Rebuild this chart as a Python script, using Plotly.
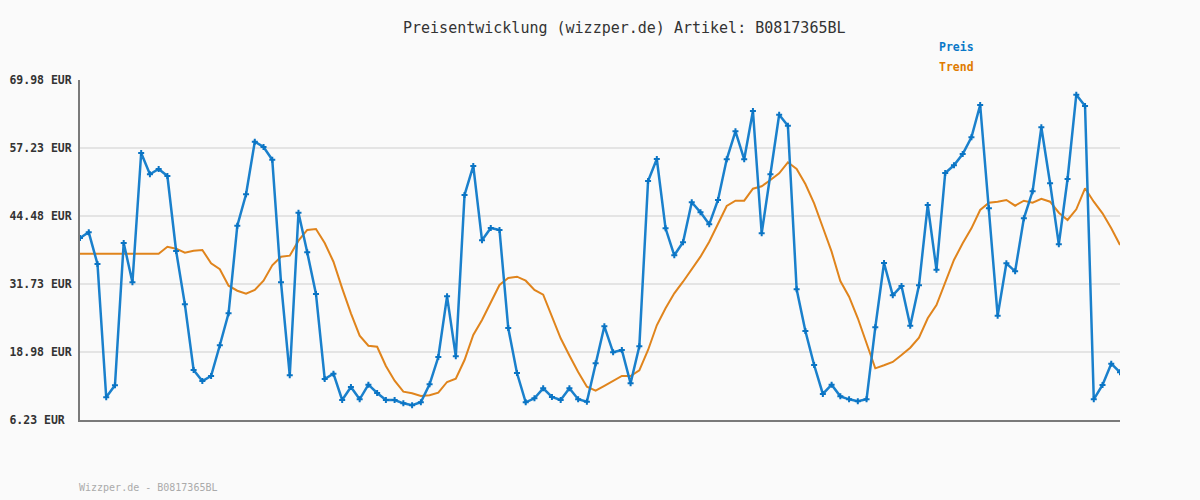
import plotly.graph_objects as go

preis = [40.36, 41.42, 35.48, 10.49, 12.74, 39.42, 32.05, 56.29, 52.30, 53.29,
         51.98, 37.92, 27.92, 15.61, 13.54, 14.48, 20.24, 26.24, 42.66, 48.55,
         58.41, 57.42, 55.04, 32.05, 14.61, 45.10, 37.67, 29.86, 13.92, 14.91,
         9.98, 12.42, 10.11, 12.85, 11.29, 9.98, 9.98, 9.36, 8.99, 9.55,
         12.92, 18.04, 29.42, 18.17, 48.42, 53.86, 39.92, 42.23, 41.86, 23.48,
         15.04, 9.55, 10.30, 12.17, 10.54, 9.98, 12.17, 10.13, 9.66, 16.86,
         23.80, 18.92, 19.36, 13.11, 20.05, 51.04, 55.17, 42.17, 37.11, 39.55,
         47.05, 45.17, 42.92, 47.48, 55.11, 60.36, 55.11, 64.17, 41.24, 52.30,
         63.47, 61.41, 30.74, 22.92, 16.54, 11.11, 12.85, 10.67, 10.11, 9.74,
         10.11, 23.61, 35.67, 29.61, 31.36, 23.91, 31.49, 46.54, 34.41, 52.54,
         53.99, 56.11, 59.24, 65.29, 45.92, 25.79, 35.61, 34.11, 44.05, 49.11,
         61.11, 50.61, 39.17, 51.42, 67.22, 65.11, 10.11, 12.79, 16.79, 15.17]

trend = [37.41, 37.41, 37.41, 37.41, 37.41, 37.41, 37.41, 37.41, 37.41, 37.41,
         38.72, 38.35, 37.60, 37.97, 38.11, 35.61, 34.49, 31.41, 30.47, 29.91,
         30.61, 32.35, 35.24, 36.85, 37.04, 39.85, 41.86, 42.04, 39.42, 35.91,
         30.92, 26.24, 22.04, 20.16, 19.97, 16.36, 13.60, 11.54, 11.24, 10.73,
         10.86, 11.35, 13.36, 13.97, 17.48, 22.17, 24.98, 28.11, 31.54, 32.86,
         33.10, 32.35, 30.61, 29.72, 25.60, 21.55, 18.32, 15.23, 12.47, 11.72,
         12.61, 13.49, 14.48, 14.48, 15.55, 19.36, 23.99, 27.17, 29.99, 32.16,
         34.49, 36.85, 39.66, 42.98, 46.36, 47.35, 47.35, 49.60, 50.05, 51.23,
         52.49, 54.55, 53.29, 50.48, 46.86, 42.32, 37.79, 32.29, 29.35, 25.30,
         20.61, 15.92, 16.49, 17.11, 18.42, 19.79, 21.66, 25.30, 27.79, 31.86,
         36.23, 39.36, 42.17, 45.61, 46.97, 47.16, 47.48, 46.41, 47.35, 46.97,
         47.72, 47.16, 45.10, 43.73, 45.74, 49.67, 47.16, 44.99, 42.17, 39.04]

y_ticks = [6.23, 18.98, 31.73, 44.48, 57.23, 69.98]
y_labels = ["6.23 EUR", "18.98 EUR", "31.73 EUR", "44.48 EUR", "57.23 EUR", "69.98 EUR"]

title = "Preisentwicklung (wizzper.de) Artikel: B0817365BL"
footer = "Wizzper.de - B0817365BL"

x = list(range(len(preis)))

BLUE = "#1a80cc"
ORANGE = "#e0841c"
MONO = "DejaVu Sans Mono"

# labels are left aligned in the reference: pad with non-breaking spaces (monospace font)
width = max(len(s) for s in y_labels)
tick_text = [s + "\u00a0" * (width - len(s)) for s in y_labels]

fig = go.Figure()
fig.add_trace(go.Scatter(
    x=x, y=trend, mode="lines", name="Trend",
    line=dict(color=ORANGE, width=2), hoverinfo="skip"))
fig.add_trace(go.Scatter(
    x=x, y=preis, mode="lines+markers", name="Preis",
    line=dict(color=BLUE, width=2.5),
    marker=dict(symbol="cross", size=5, color="#0a74c4", line=dict(width=0))))

fig.update_layout(
    width=1200, height=500,
    margin=dict(l=80, r=80, t=80, b=80),
    paper_bgcolor="#fafafa", plot_bgcolor="#fafafa",
    showlegend=False,
    xaxis=dict(range=[0, len(preis) - 1], showgrid=False, zeroline=False,
               showticklabels=False, ticks="", showline=True, automargin=False,
               linecolor="#7a7a7a", linewidth=2),
    yaxis=dict(range=[y_ticks[0], y_ticks[-1]], tickmode="array",
               tickvals=y_ticks, ticktext=tick_text, showgrid=True,
               gridcolor="#e4e4e4", gridwidth=2, zeroline=False, automargin=False,
               showline=True, linecolor="#7a7a7a", linewidth=2, ticks="",
               ticklabelstandoff=4,
               tickfont=dict(family=MONO, size=11.5, color="#333333", weight="bold")),
    annotations=[
        dict(text=title, x=624, y=28, showarrow=False,
             font=dict(family=MONO, size=15, color="#333333")),
        dict(text="Preis", x=937, y=47, showarrow=False, xanchor="left",
             font=dict(family=MONO, size=11.5, color="#0a78c8", weight="bold")),
        dict(text="Trend", x=937, y=67, showarrow=False, xanchor="left",
             font=dict(family=MONO, size=11.5, color="#e07b00", weight="bold")),
        dict(text=footer, x=77, y=487, showarrow=False, xanchor="left",
             font=dict(family=MONO, size=10, color="#aaaaaa")),
    ],
)

# convert pixel positions of annotations to paper coordinates
pw, ph = 1200 - 160, 500 - 160
for a in fig.layout.annotations:
    a.xref = "paper"
    a.yref = "paper"
    a.x = (a.x - 80) / pw
    a.y = (420 - a.y) / ph
    a.yanchor = "middle"

fig.write_html("out.html", config={"displayModeBar": False},
               post_script="document.body.style.margin='0';document.body.style.background='#fafafa';")
